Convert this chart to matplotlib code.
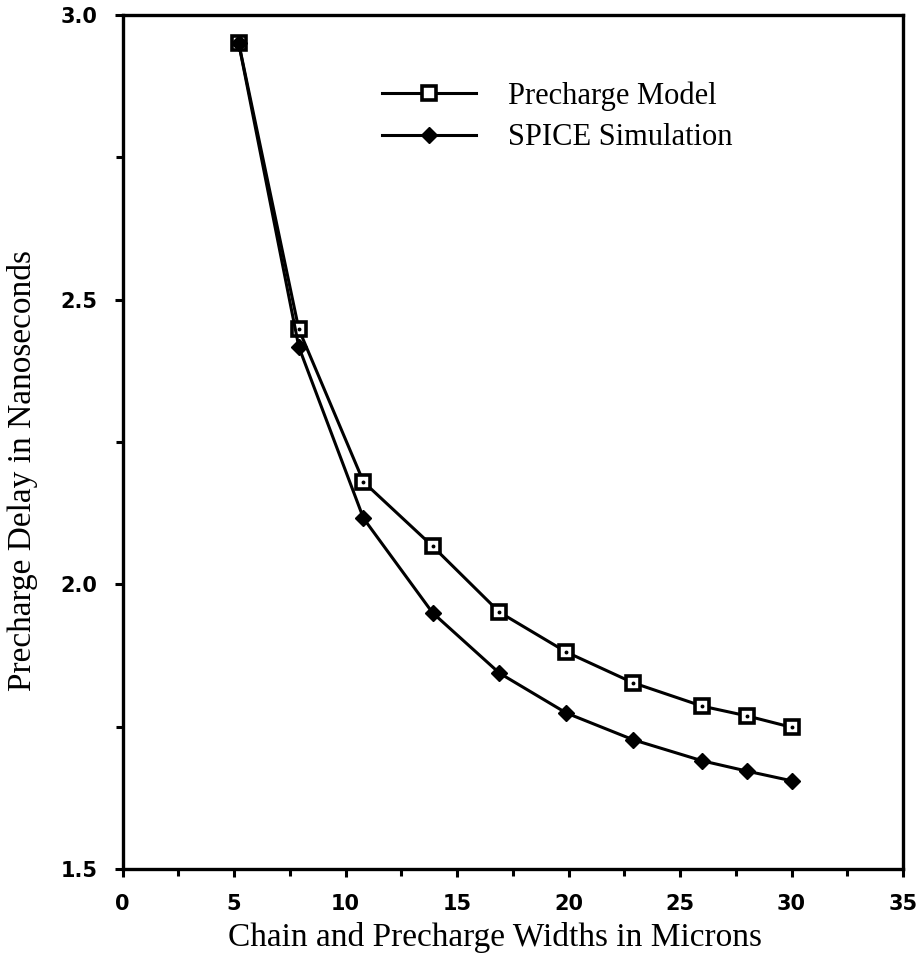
import matplotlib
matplotlib.use("Agg")
import matplotlib.pyplot as plt
from matplotlib.ticker import MultipleLocator

widths = [5.2, 7.9, 10.8, 13.9, 16.9, 19.9, 22.9, 26.0, 28.0, 30.0]
model_delay = [2.951, 2.448, 2.180, 2.067, 1.951, 1.881, 1.827, 1.786, 1.769, 1.749]
spice_delay = [2.951, 2.417, 2.116, 1.950, 1.844, 1.774, 1.727, 1.690, 1.672, 1.655]
x_ticks = [0, 5, 10, 15, 20, 25, 30, 35]
y_ticks = [1.5, 2.0, 2.5, 3.0]

serif = ["Liberation Serif", "DejaVu Serif"]
sans = ["DejaVu Sans"]

fig = plt.figure(figsize=(9.24, 9.61), dpi=100)
ax = fig.add_axes([0.1328, 0.0957, 0.9773 - 0.1328, 0.9844 - 0.0957])

ax.plot(widths, model_delay, color="black", lw=2.2, marker="s", ms=10,
        mfc="white", mec="black", mew=2.6, label="Precharge Model", zorder=3)
ax.plot(widths, model_delay, ls="none", marker="o", ms=1.8, color="black", zorder=4)
ax.plot(widths, spice_delay, color="black", lw=2.2, marker="D", ms=8.5,
        mfc="black", mec="black", label="SPICE Simulation", zorder=3)

ax.set_xlim(0, 35)
ax.set_ylim(1.5, 3.0)
ax.set_xticks(x_ticks)
ax.set_yticks(y_ticks)
ax.xaxis.set_minor_locator(MultipleLocator(2.5))
ax.yaxis.set_minor_locator(MultipleLocator(0.25))
ax.set_xticklabels([str(v) for v in x_ticks], fontfamily=sans, fontsize=15, fontweight="bold")
ax.set_yticklabels([f"{v:.1f}" for v in y_ticks], fontfamily=sans, fontsize=15, fontweight="bold")
ax.tick_params(axis="both", which="major", direction="out", length=6, width=2.2)
ax.tick_params(axis="both", which="minor", direction="out", length=5, width=2.2)
ax.tick_params(axis="x", pad=12)
ax.tick_params(axis="y", pad=12)
for s in ax.spines.values():
    s.set_linewidth(2.4)

ax.set_xlabel("Chain and Precharge Widths in Microns", fontfamily=serif, fontsize=24)
ax.set_ylabel("Precharge Delay in Nanoseconds", fontfamily=serif, fontsize=24)
ax.xaxis.set_label_coords(0.477, -0.062)
ax.yaxis.set_label_coords(-0.108, 0.467)

leg = ax.legend(loc="upper left", bbox_to_anchor=(0.332, 0.922), frameon=False,
                prop={"family": serif, "size": 22}, handlelength=3.07,
                handletextpad=1.05, labelspacing=0.4, borderpad=0, borderaxespad=0)

fig.savefig("out.png", dpi=100, facecolor="white")
